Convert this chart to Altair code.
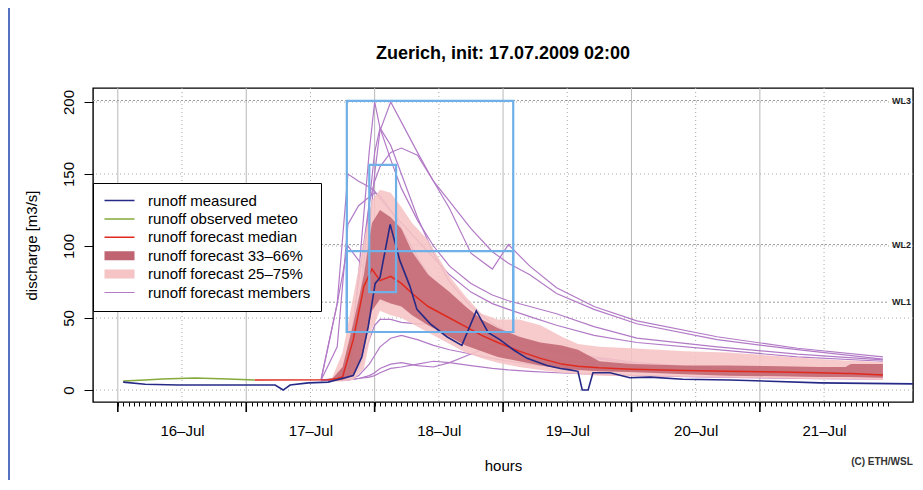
import altair as alt
import pandas as pd

# ---------------- data (hours since 16 Jul 00:00, discharge m3/s) ----------------
day_labels = ["16–Jul", "17–Jul", "18–Jul", "19–Jul", "20–Jul", "21–Jul"]
label_h = [0, 24, 48, 72, 96, 120]          # dotted grid + date labels
major_h = [-12, 12, 36, 60, 84, 108]        # long ticks + solid grid
minor_h = list(range(-12, 133))             # hourly ticks
y_ticks = [0, 50, 100, 150, 200]

meas_h = [-11.0, -6.9, -0.7, 17.4, 18.9, 20.2, 23.6, 27.3, 29.9, 32.0, 33.6, 34.8, 36.1, 37.0,
          38.9, 40.7, 42.6, 43.9, 46.4, 49.5, 52.3, 55.0, 57.2, 59.4, 61.9, 64.5, 68.2, 70.7,
          72.5, 74.0, 74.8, 75.9, 76.8, 80.0, 83.7, 87.5, 93.6, 102.4, 119.3, 136.6]
meas_v = [5.5, 4, 3.5, 3.5, 0, 3.5, 5, 5.5, 8, 10, 23, 44, 74, 78,
          115, 90, 72, 56, 46, 37, 31, 55, 40, 35, 28, 22, 17, 15,
          14, 13, 0, 0, 12, 12, 8.5, 9, 7.5, 7, 5, 4.3]

meteo_h = [-11.0, -6.9, -3.7, 2.4, 8.6, 13.6]
meteo_v = [6.2, 7, 7.6, 8.3, 7.6, 7]

med_h = [13.6, 27.3, 29, 30, 32, 34, 35.5, 37, 39, 41, 43, 46, 50, 53, 56, 59, 63, 67, 71, 74,
         78, 84, 94, 102, 112, 119, 124, 125, 131]
med_v = [7, 7.2, 8, 9, 35, 72, 84, 76, 79, 74, 67, 58, 50, 44, 38, 33, 27, 22, 18, 16.5,
         15.5, 14.5, 13.5, 13, 12.5, 12, 11.5, 11.5, 10.5]

band_h = [28, 30, 32, 34, 35.5, 37, 39, 41, 43, 46, 50, 53, 56, 59, 63, 67, 71, 74, 78, 84,
          94, 102, 112, 119, 124, 125, 131]
q25 = [6, 6, 7, 15, 42, 55, 52, 50, 46, 40, 32, 26, 22, 19, 16, 14, 12, 11, 10, 9.5,
       9, 8.5, 8, 7.5, 7.5, 7.5, 7]
q33 = [6.5, 7, 10, 28, 55, 63, 60, 58, 52, 45, 37, 31, 27, 23, 20, 17, 15, 14, 13, 12.5,
       11, 10, 9.5, 9, 9, 9, 8.5]
q66 = [7.5, 16, 46, 80, 116, 125, 120, 112, 96, 80, 68, 58, 49, 43, 37, 33, 31, 28, 20, 18,
       17, 17, 16.5, 16, 16, 18, 18]
q75 = [8, 26, 65, 104, 132, 139, 137, 127, 116, 104, 79, 65, 53, 49, 49, 45, 37, 32, 30, 29,
       27, 26, 23.5, 21.5, 20.5, 20.5, 19.5]

mem_h = [26, 29, 31, 33, 35, 36, 37, 39, 41, 44, 47, 50, 54, 58, 61, 65, 70, 77, 85, 100, 115, 131]
mem_a = [7, 8, 20, 75, 130, 145, 155, 165, 168, 163, 145, 126, 95, 84, 101, 86, 71, 58, 48, 37, 29, 23]
mem_b = [7, 7, 12, 45, 110, 150, 180, 200, 186, 165, 145, 131, 112, 96, 88, 80, 67, 56, 46, 35, 28, 21.5]
mem_c = [7, 7, 7, 80, 166, 200, 182, 160, 140, 118, 100, 86, 74, 66, 62, 58, 53, 44, 36, 30, 25, 21]
mem_d = [7, 60, 150, 145, 141, 138, 133, 124, 116, 104, 92, 80, 68, 60, 56, 51, 45, 38, 33, 28, 23, 20]
mem_e = [7, 30, 115, 128, 134, 137, 135, 125, 112, 92, 75, 62, 50, 42, 37, 32, 27, 22, 18, 14, 12, 10]
mem_f = [8, 60, 100, 90, 80, 75, 72, 66, 60, 52, 45, 38, 31, 26, 23, 20, 17, 15, 13, 11, 10, 9]
mem_g = [7, 7, 8, 15, 35, 45, 49, 49, 47, 46, 46, 42, 36, 30, 27, 24, 21, 18, 16, 13, 11, 9]
mem_h2 = [7, 7, 7, 8, 10, 12, 15, 18, 19, 17, 16, 19, 25, 31, 33, 30, 26, 20, 16, 13, 11, 9]
mem_i = [7, 7, 7, 10, 18, 24, 30, 36, 38, 35, 31, 28, 25, 22, 20, 18, 16, 14, 12.5, 11, 10, 9]
mem_j = [7, 7, 7, 8, 9, 10, 12, 15, 16, 18, 20, 19, 17, 15, 14, 13, 12, 11, 10, 9, 8, 7.5]
mem_l = [7, 7, 10, 50, 130, 165, 182, 170, 150, 120, 95, 75, 58, 46, 40, 34, 28, 23, 19, 15, 13, 11]

wl_names = ["WL1", "WL2", "WL3"]
wl_vals = [61, 101, 201]

box_x1 = [30.8, 30.8, 35.0]
box_x2 = [61.9, 61.9, 40.0]
box_y1 = [40.3, 40.3, 68.0]
box_y2 = [200.7, 96.5, 156.3]

legend_names = ["runoff measured", "runoff observed meteo", "runoff forecast median",
                "runoff forecast 33–66%", "runoff forecast 25–75%", "runoff forecast members"]
legend_colors = ["#262a86", "#84aa3c", "#e02a1e", "#bf6470", "#f6c4c4", "#b27ac6"]
legend_widths = [1.6, 1.5, 1.5, 9, 9, 1.2]

# ---------------- tables ----------------
main_df = pd.concat([
    pd.DataFrame({"h": meteo_h, "v": meteo_v, "series": legend_names[1]}),
    pd.DataFrame({"h": med_h, "v": med_v, "series": legend_names[2]}),
    pd.DataFrame({"h": meas_h, "v": meas_v, "series": legend_names[0]}),
], ignore_index=True)
main_df["ord"] = range(len(main_df))

members = {"a": mem_a, "b": mem_b, "c": mem_c, "d": mem_d, "e": mem_e, "f": mem_f,
           "g": mem_g, "h": mem_h2, "i": mem_i, "j": mem_j, "l": mem_l}
mem_df = pd.concat([pd.DataFrame({"h": mem_h, "v": vals, "id": k, "series": legend_names[5]})
                    for k, vals in members.items()], ignore_index=True)

band_df = pd.DataFrame({"h": band_h, "q25": q25, "q33": q33, "q66": q66, "q75": q75})
wl_df = pd.DataFrame({"name": wl_names, "v": wl_vals})
box_df = pd.DataFrame({"x1": box_x1, "x2": box_x2, "y1": box_y1, "y2": box_y2})
label_df = pd.DataFrame({"h": label_h})
major_df = pd.DataFrame({"h": major_h})
ytick_df = pd.DataFrame({"v": y_ticks})
one_df = pd.DataFrame({"a": [0]})

# ---------------- scales / axes ----------------
FONT = "Liberation Sans"
XS = alt.Scale(domain=[-16.64, 136.62], nice=False, zero=False)
YS = alt.Scale(domain=[-8.3, 209.7], nice=False, zero=False)

lab_js = "[" + ",".join("'%s'" % s for s in day_labels) + "]"

xaxis = alt.Axis(
    values=minor_h,
    domain=False, grid=False,
    tickColor="black", tickSize=4, tickWidth=1,
    labelExpr="(datum.value % 24 == 0 && datum.value >= 0 && datum.value <= 120) ? "
              + lab_js + "[datum.value / 24] : ''",
    labelOverlap=False, labelFlush=False,
    labelFont=FONT, labelFontSize=15, labelColor="black", labelPadding=17,
    title="hours", titleFont=FONT, titleFontSize=15, titleFontWeight="normal",
    titleColor="black", titlePadding=20,
)
yaxis = alt.Axis(
    values=y_ticks,
    domain=False, grid=False,
    tickColor="black", tickSize=9, tickWidth=1,
    labelAngle=270, labelAlign="center", labelBaseline="bottom",
    labelFont=FONT, labelFontSize=15, labelColor="black", labelPadding=8,
    title="discharge [m3/s]", titleFont=FONT, titleFontSize=15, titleFontWeight="normal",
    titleColor="black", titlePadding=22,
)


def X(field):
    return alt.X(field, scale=XS, axis=xaxis)


def Y(field):
    return alt.Y(field, scale=YS, axis=yaxis)


leg = dict(title=None, orient="none", legendX=0, legendY=95, symbolType="M-5,0H5",
           symbolSize=36, symbolOffset=9, labelFont=FONT, labelFontSize=15,
           labelColor="black", labelLimit=400, strokeColor="black", fillColor="white",
           padding=10, rowPadding=2.4, labelOffset=21, clipHeight=15)
color_enc = alt.Color("series:N", scale=alt.Scale(domain=legend_names, range=legend_colors),
                      legend=alt.Legend(**leg))
width_enc = alt.StrokeWidth("series:N",
                            scale=alt.Scale(type="ordinal", domain=legend_names, range=legend_widths),
                            legend=alt.Legend(**leg))

# ---------------- layers ----------------
grid_v_dotted = alt.Chart(label_df).mark_rule(color="#a8a8a8", strokeDash=[1, 3], strokeWidth=1).encode(
    x=X("h:Q"))
grid_v_solid = alt.Chart(major_df).mark_rule(color="#b8b8b8", strokeWidth=1).encode(
    x=X("h:Q"))
grid_h = alt.Chart(ytick_df).mark_rule(color="#a8a8a8", strokeDash=[1, 3], strokeWidth=1).encode(
    y=Y("v:Q"))
major_ticks = alt.Chart(major_df).mark_rule(color="black", strokeWidth=1.6).encode(
    x=X("h:Q"), y=alt.value(314), y2=alt.value(324))

wl_rules = alt.Chart(wl_df).mark_rule(color="#9a9a9a", strokeDash=[2, 2], strokeWidth=1).encode(
    x=alt.value(0), x2=alt.value(796), y=Y("v:Q"))
wl_text = alt.Chart(wl_df).mark_text(align="right", baseline="middle", font=FONT,
                                     fontSize=9, fontWeight="bold", color="#222222").encode(
    x=alt.value(818), y=Y("v:Q"), text="name:N")

mem_lines = alt.Chart(mem_df).mark_line().encode(
    x=X("h:Q"), y=Y("v:Q"), detail="id:N", color=color_enc, strokeWidth=width_enc)

band75 = alt.Chart(band_df).mark_area(color="#f6c4c4", opacity=0.88).encode(
    x=X("h:Q"), y=Y("q25:Q"), y2="q75:Q")
band66 = alt.Chart(band_df).mark_area(color="#bf6470", opacity=0.85).encode(
    x=X("h:Q"), y=Y("q33:Q"), y2="q66:Q")

main_lines = alt.Chart(main_df).mark_line().encode(
    x=X("h:Q"), y=Y("v:Q"), color=color_enc, strokeWidth=width_enc, order="ord:Q")

boxes = alt.Chart(box_df).mark_rect(fillOpacity=0, stroke="#6fb0e8", strokeWidth=2.2).encode(
    x=X("x1:Q"), x2="x2:Q", y=Y("y1:Q"), y2="y2:Q")

copyright_txt = alt.Chart(one_df).mark_text(text="(C) ETH/WSL", font=FONT, fontSize=10,
                                            fontWeight="bold", color="#333333",
                                            align="center", baseline="middle").encode(
    x=alt.value(789), y=alt.value(374))

border = alt.Chart(one_df).mark_rule(color="#5572c0", strokeWidth=2).encode(
    x=alt.value(-84), y=alt.value(-80), y2=alt.value(394))

chart = alt.layer(
    grid_v_solid, grid_v_dotted, grid_h, major_ticks, wl_rules, wl_text,
    mem_lines, band75, band66, main_lines, boxes, copyright_txt, border,
).properties(
    width=820, height=314,
    background="white",
    title=alt.TitleParams("Zuerich, init: 17.07.2009 02:00", font=FONT, fontSize=18,
                          fontWeight="bold", color="black", offset=0, dy=74, anchor="middle",
                          frame="group", baseline="bottom"),
    autosize=alt.AutoSizeParams(type="none"),
    padding={"left": 85, "top": 80, "right": 2, "bottom": 78},
).configure_view(
    stroke="black", strokeWidth=1.4
)

chart.save("out.html", embed_options={"renderer": "svg", "actions": False})
